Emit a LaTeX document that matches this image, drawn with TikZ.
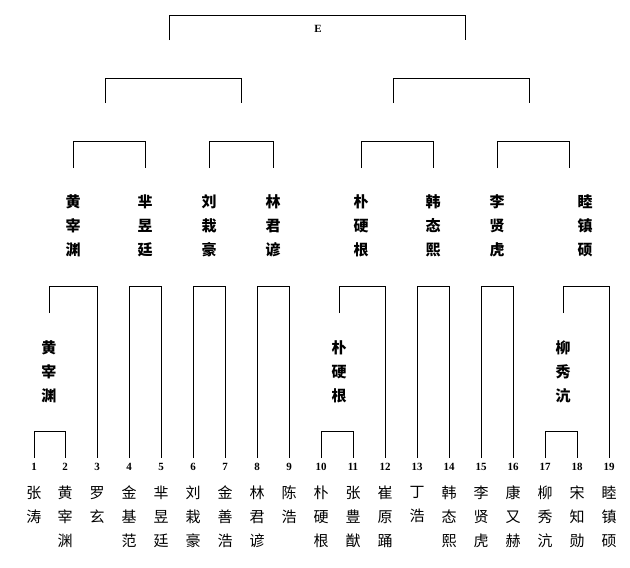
\documentclass[tikz,border=0pt]{standalone}
\usepackage{fontspec}
\setmainfont{Liberation Serif}
\newfontfamily\cjk{Noto Sans CJK SC}
\begin{document}
\begin{tikzpicture}[x=1pt,y=-1pt,
  line/.style={draw=black,line width=0.9pt},
  vname/.style={font=\cjk\fontsize{15}{24}\selectfont,align=center,inner sep=0pt,anchor=north},
  bname/.style={font=\cjk\bfseries\fontsize{15}{24}\selectfont,align=center,inner sep=0pt},
  num/.style={font=\bfseries\fontsize{11}{11}\selectfont,inner sep=0pt}]
\useasboundingbox[fill=white] (0,0) rectangle (630,568);
% columns
\foreach \i/\x in {1/34,2/65,3/97,4/129,5/161,6/193,7/225,8/257,9/289,10/321,11/353,12/385,13/417,14/449,15/481,16/513,17/545,18/577,19/609}
  \node[num] (n\i) at (\x,467) {\i};
\foreach \i/\x/\t in {1/34/张\\涛,2/65/黄\\宰\\渊,3/97/罗\\玄,4/129/金\\基\\范,5/161/芈\\昱\\廷,6/193/刘\\栽\\豪,7/225/金\\善\\浩,8/257/林\\君\\谚,9/289/陈\\浩,10/321/朴\\硬\\根,11/353/张\\豊\\猷,12/385/崔\\原\\踊,13/417/丁\\浩,14/449/韩\\态\\熙,15/481/李\\贤\\虎,16/513/康\\又\\赫,17/545/柳\\秀\\沆,18/577/宋\\知\\勋,19/609/睦\\镇\\硕}
  \node[vname] (p\i) at (\x,486) {\t};
% first round pairs
\foreach \a/\b/\xa/\xb in {1/2/34/65,10/11/321/353,17/18/545/577}
  \draw[line] (\xa,458) -- (\xa,431) -- (\xb,431) -- (\xb,458);
% winners of first round
\node[bname] (w1) at (49,372) {黄\\宰\\渊};
\node[bname] (w10) at (339,372) {朴\\硬\\根};
\node[bname] (w17) at (563,372) {柳\\秀\\沆};
% second level brackets
\draw[line] (49,313) -- (49,286) -- (97,286) -- (97,458);
\draw[line] (339,313) -- (339,286) -- (385,286) -- (385,458);
\draw[line] (563,313) -- (563,286) -- (609,286) -- (609,458);
\foreach \xa/\xb in {129/161,193/225,257/289,417/449,481/513}
  \draw[line] (\xa,458) -- (\xa,286) -- (\xb,286) -- (\xb,458);
% round 2 winners
\foreach \k/\x/\t in {a/73/黄\\宰\\渊,b/145/芈\\昱\\廷,c/209/刘\\栽\\豪,d/273/林\\君\\谚,e/361/朴\\硬\\根,f/433/韩\\态\\熙,g/497/李\\贤\\虎,h/585/睦\\镇\\硕}
  \node[bname] (r\k) at (\x,226) {\t};
% third level
\foreach \xa/\xb in {73/145,209/273,361/433,497/569}
  \draw[line] (\xa,168) -- (\xa,141) -- (\xb,141) -- (\xb,168);
\foreach \xa/\xb in {105/241,393/529}
  \draw[line] (\xa,103) -- (\xa,78) -- (\xb,78) -- (\xb,103);
\draw[line] (169,40) -- (169,15) -- (465,15) -- (465,40);
\node[num] (E) at (318,29) {E};
\end{tikzpicture}
\end{document}
